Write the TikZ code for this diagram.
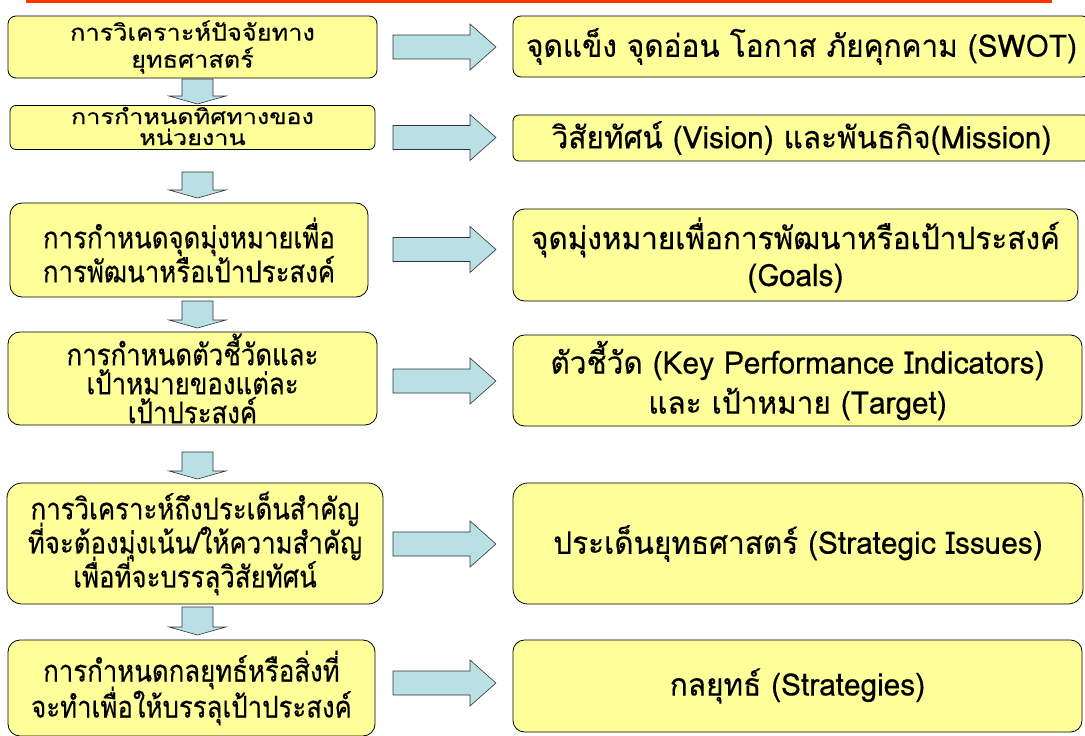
\documentclass[tikz,border=0pt]{standalone}
\usepackage{fontspec}
\newfontfamily\thaibig[Script=Thai,FakeStretch=0.86,FakeBold=0.35]{Loma}
\newfontfamily\thaismall[Script=Thai,FakeStretch=1.1,FakeBold=0.35]{Loma}
\newfontfamily\thaiwide[Script=Thai,FakeStretch=1.2,FakeBold=0.35]{Loma}
\newfontfamily\thairight[Script=Thai,FakeStretch=0.96,FakeBold=0.35]{Loma}
\definecolor{boxyellow}{RGB}{255,255,153}
\definecolor{arrowblue}{RGB}{185,224,228}
\definecolor{topred}{RGB}{255,51,0}
\newcommand\tightlines{\lineskiplimit=-100pt\lineskip=0pt\relax}
\tikzset{
  box/.style={draw=black, line width=0.8pt, fill=boxyellow, rounded corners=9pt,
    align=center, inner sep=0pt, text=black},
  lsmall/.style={box, font=\thaismall\fontsize{23}{27}\selectfont\tightlines},
  lbig/.style={box, font=\thaibig\fontsize{30}{34}\selectfont\tightlines},
  rtext/.style={box, font=\thairight\fontsize{31}{38}\selectfont\tightlines},
  plaintext/.style={align=center, inner sep=0pt, text=black},
  barrow/.style={draw=black!80, line width=0.6pt, fill=arrowblue, line join=miter}
}
\newcommand\rarrow[1]{%
  \draw[barrow] (393,#1-12) -- (470,#1-12) -- (470,#1-23) -- (496,#1)
    -- (470,#1+23) -- (470,#1+12) -- (393,#1+12) -- cycle;}
\newcommand\darrow[2]{% top y, tip y
  \draw[barrow] (182,#1) -- (213,#1) -- (213,#2-8) -- (226,#2-8) -- (197.5,#2)
    -- (169,#2-8) -- (182,#2-8) -- cycle;}
\begin{document}
\begin{tikzpicture}[x=1pt,y=-1pt]
\useasboundingbox (0,0) rectangle (1085,736);
\fill[topred] (26,0) rectangle (1052,2.5);
% left boxes
\node[lsmall, rounded corners=8pt, minimum width=369, minimum height=62] (L1) at (192.5,47)
  {การวิเคราะห์ปัจจัยทาง\\ยุทธศาสตร์};
\node[box, rounded corners=6pt, minimum width=365, minimum height=44] (L2) at (192.5,127.5) {};
\node[plaintext, font=\thaiwide\fontsize{21}{21}\selectfont\tightlines] (L2t)
  at ([yshift=1.5pt]L2.center) {การกำหนดทิศทางของ\\หน่วยงาน};
\node[lbig, rounded corners=12pt, minimum width=358, minimum height=94] (L3) at (189,250)
  {การกำหนดจุดมุ่งหมายเพื่อ\\การพัฒนาหรือเป้าประสงค์};
\node[lbig, rounded corners=12pt, minimum width=369, minimum height=93,
      font=\thaibig\fontsize{30}{29}\selectfont\tightlines] (L4) at (192.5,378.5)
  {การกำหนดตัวชี้วัดและ\\เป้าหมายของแต่ละ\\เป้าประสงค์};
\node[lbig, rounded corners=15pt, minimum width=376, minimum height=121] (L5) at (195,543.5)
  {การวิเคราะห์ถึงประเด็นสำคัญ\\ที่จะต้องมุ่งเน้น/ให้ความสำคัญ\\เพื่อที่จะบรรลุวิสัยทัศน์};
\node[lbig, rounded corners=12pt, minimum width=367, minimum height=96,
      font=\thaibig\fontsize{30}{36}\selectfont\tightlines] (L6) at (191.5,688)
  {การกำหนดกลยุทธ์หรือสิ่งที่\\จะทำเพื่อให้บรรลุเป้าประสงค์};
% right boxes
\node[rtext, rounded corners=8pt, minimum width=577, minimum height=61] (R1) at (801.5,46.5)
  {จุดแข็ง จุดอ่อน โอกาส ภัยคุกคาม (SWOT)};
\node[rtext, rounded corners=6pt, minimum width=577, minimum height=46] (R2) at (801.5,138)
  {วิสัยทัศน์ (Vision) และพันธกิจ(Mission)};
\node[rtext, rounded corners=11.5pt, minimum width=565, minimum height=92,
      font=\thairight\fontsize{31}{37}\selectfont\tightlines] (R3) at (795.5,255)
  {จุดมุ่งหมายเพื่อการพัฒนาหรือเป้าประสงค์\\(Goals)};
\node[rtext, rounded corners=11.5pt, minimum width=569, minimum height=91,
      font=\thairight\fontsize{31}{40}\selectfont\tightlines] (R4) at (797.5,380.5)
  {ตัวชี้วัด (Key Performance Indicators)\\และ เป้าหมาย (Target)};
\node[rtext, rounded corners=15pt, minimum width=570, minimum height=121] (R5) at (798,543.5)
  {ประเด็นยุทธศาสตร์ (Strategic Issues)};
\node[rtext, rounded corners=11.5pt, minimum width=569, minimum height=92] (R6) at (797.5,686)
  {กลยุทธ์ (Strategies)};
% horizontal arrows
\rarrow{47}
\rarrow{137.5}
\rarrow{249.5}
\rarrow{381}
\rarrow{544}
\rarrow{683}
% down arrows
\darrow{79}{104}
\darrow{172}{198}
\darrow{301}{328}
\darrow{452}{479}
\darrow{607}{635}
\end{tikzpicture}
\end{document}
